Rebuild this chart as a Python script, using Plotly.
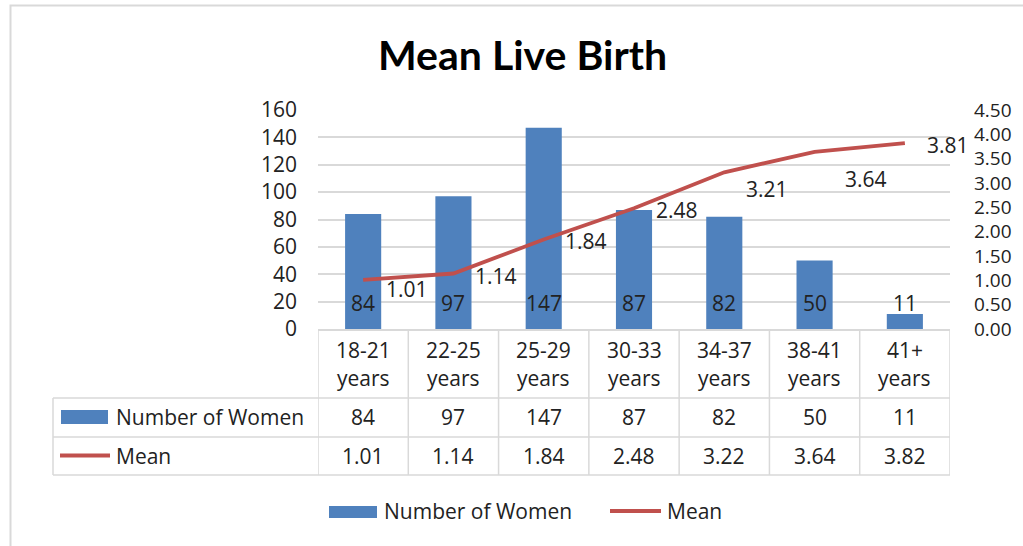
import plotly.graph_objects as go

# ---- data ----
categories = ["18-21 years", "22-25 years", "25-29 years", "30-33 years",
              "34-37 years", "38-41 years", "41+ years"]
women = [84, 97, 147, 87, 82, 50, 11]
mean_values = [1.01, 1.14, 1.84, 2.48, 3.22, 3.64, 3.82]
mean_labels = ["1.01", "1.14", "1.84", "2.48", "3.21", "3.64", "3.81"]
mean_table = ["1.01", "1.14", "1.84", "2.48", "3.22", "3.64", "3.82"]
left_ticks = [0, 20, 40, 60, 80, 100, 120, 140, 160]
right_ticks = [0.0, 0.5, 1.0, 1.5, 2.0, 2.5, 3.0, 3.5, 4.0, 4.5]

# ---- style ----
W, H = 1023, 546
PL, PR, PT, PB = 318, 950, 110, 329  # plot area in pixels
BLUE = "#4F81BD"
RED = "#C0504D"
GRID = "#D9D9D9"
TXT = "#222222"
FONT = "Open Sans"
TFONT = "Lato"
FS = 21
# label offsets (pixels) for line data labels
lab_dx = [44, 43, 42, 43, 43, 51, 43]
lab_dy = [-9, -2, -2, -2, -17, -27, -2]


def px(x):
    return (x - PL) / (PR - PL)


def py(y):
    return (PB - y) / (PB - PT)


def txt(x, y, text, xref="paper", yref="paper", xanchor="center", **kw):
    d = dict(x=x, y=y, xref=xref, yref=yref, text=text, showarrow=False,
             xanchor=xanchor, yanchor="middle",
             font=dict(size=FS, color=TXT, family=FONT))
    d.update(kw)
    return d


fig = go.Figure()
fig.add_trace(go.Bar(x=categories, y=women, name="Number of Women",
                     marker=dict(color=BLUE, line=dict(width=0)), width=0.4,
                     yaxis="y", showlegend=False))
fig.add_trace(go.Scatter(x=categories, y=mean_values, name="Mean", mode="lines",
                         line=dict(color=RED, width=3.8), yaxis="y2",
                         showlegend=False))

ann = []
shapes = []

# bar labels (inside base)
for c, v in zip(categories, women):
    ann.append(txt(c, 0, str(v), xref="x", yref="y", yshift=26))
# line labels
for c, v, t, dx, dy in zip(categories, mean_values, mean_labels, lab_dx, lab_dy):
    ann.append(txt(c, v, t, xref="x", yref="y2", xshift=dx, yshift=dy))

# data table: category header
for c in categories:
    parts = c.split(" ")
    ann.append(txt(c, py(350), parts[0], xref="x"))
    ann.append(txt(c, py(378), parts[1], xref="x"))
# table values
for c, v, m in zip(categories, women, mean_table):
    ann.append(txt(c, py(417), str(v), xref="x"))
    ann.append(txt(c, py(456), m, xref="x"))

# table grid lines
for i in range(len(categories) + 1):
    shapes.append(dict(type="line", xref="x", yref="paper", x0=i - 0.5, x1=i - 0.5,
                       y0=py(329), y1=py(475), line=dict(color=GRID, width=1.5)))
for yy in (398, 437, 475):
    shapes.append(dict(type="line", xref="paper", yref="paper", x0=px(53), x1=px(950),
                       y0=py(yy), y1=py(yy), line=dict(color=GRID, width=1.5)))
shapes.append(dict(type="line", xref="paper", yref="paper", x0=px(53), x1=px(53),
                   y0=py(398), y1=py(475), line=dict(color=GRID, width=1.5)))

# table row headers (legend keys)
shapes.append(dict(type="rect", xref="paper", yref="paper", x0=px(61), x1=px(108),
                   y0=py(424), y1=py(410), fillcolor=BLUE, line=dict(width=0)))
ann.append(txt(px(114), py(417), "Number of Women", xanchor="left"))
shapes.append(dict(type="line", xref="paper", yref="paper", x0=px(60), x1=px(110),
                   y0=py(455.5), y1=py(455.5), line=dict(color=RED, width=3.8)))
ann.append(txt(px(114), py(456), "Mean", xanchor="left"))

# bottom legend
shapes.append(dict(type="rect", xref="paper", yref="paper", x0=px(329), x1=px(377),
                   y0=py(518), y1=py(506), fillcolor=BLUE, line=dict(width=0)))
ann.append(txt(px(382), py(511), "Number of Women", xanchor="left"))
shapes.append(dict(type="line", xref="paper", yref="paper", x0=px(610), x1=px(661),
                   y0=py(511), y1=py(511), line=dict(color=RED, width=3.8)))
ann.append(txt(px(665), py(511), "Mean", xanchor="left"))

# chart frame (top and left)
shapes.append(dict(type="path", xref="paper", yref="paper",
                   path=f"M {px(10.5)},{py(560)} L {px(10.5)},{py(5.5)} L {px(1030)},{py(5.5)}",
                   line=dict(color=GRID, width=2)))

# title
ann.append(txt(px(522), py(54), "<b>Mean Live Birth</b>",
               font=dict(size=41, color="#000000", family=TFONT)))

fig.update_layout(
    width=W, height=H,
    margin=dict(l=PL, r=W - PR, t=PT, b=H - PB),
    paper_bgcolor="white", plot_bgcolor="white",
    annotations=ann, shapes=shapes,
    xaxis=dict(type="category", showticklabels=False, ticks="", showgrid=False,
               showline=True, linecolor=GRID, linewidth=1.5, zeroline=False,
               range=[-0.5, len(categories) - 0.5]),
    yaxis=dict(range=[0, 160], tickvals=left_ticks, showgrid=True, gridcolor=GRID,
               gridwidth=1.5, zeroline=False, ticks="", ticklabelstandoff=20,
               tickfont=dict(size=FS, color=TXT, family=FONT)),
    yaxis2=dict(range=[0, 4.5], tickvals=right_ticks, tickformat=".2f", overlaying="y",
                side="right", showgrid=False, zeroline=False, ticks="",
                ticklabelstandoff=23, tickfont=dict(size=19, color=TXT, family=FONT)),
    showlegend=False,
)

fig.write_html("out.html", config={"displayModeBar": False},
               post_script="document.body.style.margin='0';document.body.style.padding='0';")
